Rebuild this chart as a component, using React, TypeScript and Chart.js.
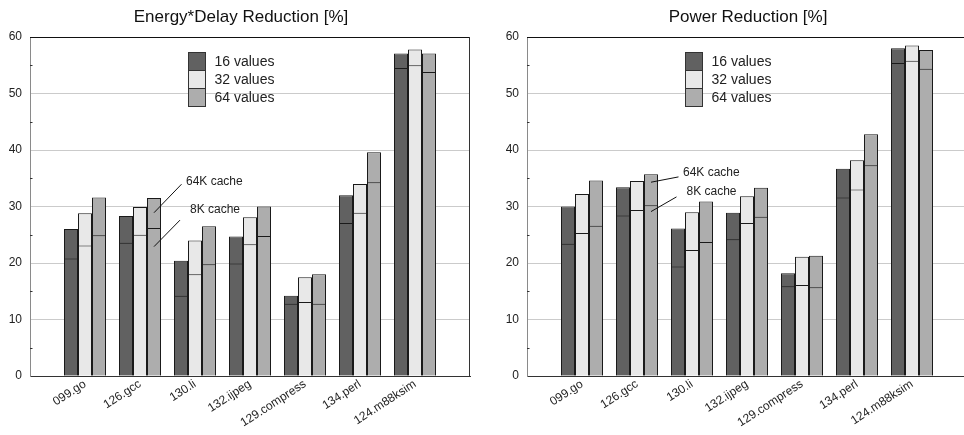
import React, { useEffect, useRef } from 'react';
import { Chart, registerables } from 'chart.js';

Chart.register(...registerables);

// ---------- data ----------
const categories = ['099.go', '126.gcc', '130.li', '132.ijpeg', '129.compress', '134.perl', '124.m88ksim'];
const seriesNames = ['16 values', '32 values', '64 values'];
const yTicks = [0, 10, 20, 30, 40, 50, 60];

// Energy*Delay Reduction [%]  (inner mark = 8K cache, bar top = 64K cache)
const ed16_8K = [20.8, 23.6, 14.2, 19.9, 12.8, 27.1, 54.5];
const ed16_64K = [26.0, 28.3, 20.4, 24.7, 14.2, 32.0, 57.1];
const ed32_8K = [23.1, 25.0, 18.0, 23.3, 13.1, 28.9, 55.0];
const ed32_64K = [28.8, 29.9, 24.0, 28.1, 17.5, 34.0, 57.8];
const ed64_8K = [24.9, 26.2, 19.8, 24.8, 12.8, 34.3, 53.8];
const ed64_64K = [31.6, 31.5, 26.5, 30.0, 18.0, 39.6, 57.1];

// Power Reduction [%]
const pw16_8K = [23.4, 28.4, 19.4, 24.2, 15.9, 31.6, 55.4];
const pw16_64K = [30.0, 33.4, 26.1, 28.9, 18.2, 36.7, 58.0];
const pw32_8K = [25.3, 29.4, 22.3, 27.1, 16.1, 33.0, 55.8];
const pw32_64K = [32.2, 34.5, 29.0, 31.8, 21.1, 38.2, 58.5];
const pw64_8K = [26.6, 30.2, 23.7, 28.2, 15.7, 37.3, 54.4];
const pw64_64K = [34.6, 35.7, 30.9, 33.3, 21.3, 42.8, 57.7];

// annotation anchors (category, series index, value pointed at)
const edAnnotations = [
  { text: '64K cache', category: '126.gcc', series: 2, value: 28.9, lx: 27.5, ly: -28.5, tx: 32, ty: -31 },
  { text: '8K cache', category: '126.gcc', series: 2, value: 22.9, lx: 26, ly: -26.5, tx: 36, ty: -36.5 },
];
const pwAnnotations = [
  { text: '64K cache', category: '126.gcc', series: 2, value: 34.3, lx: 27.5, ly: -5.3, tx: 32, ty: -9.3 },
  { text: '8K cache', category: '126.gcc', series: 2, value: 29.1, lx: 25.5, ly: -14.7, tx: 35.5, ty: -19.4 },
];

const fills = ['#616161', '#e8e8e8', '#adadad'];
const FONT = "'Liberation Sans', Arial, Helvetica, sans-serif";

const labels = ['', ...categories, ''];

const barBorder = { top: 1, left: 1, right: 1, bottom: 0 };

function buildDatasets(lows: number[][], highs: number[][]) {
  // 8K datasets (drawn last, on top) – carry the legend entries
  const lower = lows.map((arr, s) => ({
    label: seriesNames[s],
    data: [null, ...arr, null],
    stack: 's' + s,
    backgroundColor: fills[s],
    borderColor: '#1a1a1a',
    borderWidth: barBorder,
    borderSkipped: false,
    inflateAmount: 0,
    inLegend: true,
  }));
  // full 64K bars (drawn first, behind)
  const full = highs.map((arr, s) => ({
    label: seriesNames[s] + ' 64K',
    data: [null, ...arr, null],
    stack: 's' + s,
    backgroundColor: fills[s],
    borderColor: '#1a1a1a',
    borderWidth: barBorder,
    borderSkipped: false,
    inflateAmount: 0,
    inLegend: false,
  }));
  return [...lower, ...full];
}

const framePlugin = {
  id: 'frame',
  beforeDatasetsDraw(chart: any) {
    const { ctx, chartArea, scales } = chart;
    ctx.save();
    ctx.strokeStyle = '#333';
    ctx.lineWidth = 1;
    for (let i = 0; i < yTicks.length - 1; i++) {
      const v = (yTicks[i] + yTicks[i + 1]) / 2;
      const y = Math.round(scales.y.getPixelForValue(v)) + 0.5;
      ctx.beginPath();
      ctx.moveTo(chartArea.left, y);
      ctx.lineTo(chartArea.left + 2.5, y);
      ctx.stroke();
    }
    ctx.restore();
  },
  afterDraw(chart: any) {
    const { ctx, chartArea } = chart;
    ctx.save();
    ctx.lineWidth = 1;
    ctx.strokeStyle = '#111';
    const t = Math.round(chartArea.top) + 0.5;
    ctx.beginPath();
    ctx.moveTo(chartArea.left, t);
    ctx.lineTo(chartArea.right, t);
    ctx.stroke();
    ctx.strokeStyle = '#333';
    const r = Math.round(chartArea.right) - 0.5;
    ctx.beginPath();
    ctx.moveTo(r, chartArea.top);
    ctx.lineTo(r, chartArea.bottom);
    ctx.stroke();
    ctx.restore();
  },
};

const legendPlugin = {
  id: 'boxLegend',
  afterDatasetsDraw(chart: any) {
    const { ctx, chartArea } = chart;
    const x0 = Math.round(chartArea.left + 158) + 0.5;
    const y0 = Math.round(chartArea.top + 15) + 0.5;
    const bw = 17;
    const bh = 18;
    ctx.save();
    ctx.font = `14px ${FONT}`;
    ctx.textBaseline = 'middle';
    ctx.textAlign = 'left';
    let k = 0;
    chart.data.datasets.forEach((ds: any) => {
      if (!ds.inLegend) return;
      const y = y0 + k * bh;
      ctx.fillStyle = ds.backgroundColor;
      ctx.fillRect(x0, y, bw, bh);
      ctx.strokeStyle = '#333';
      ctx.lineWidth = 1;
      ctx.strokeRect(x0, y, bw, bh);
      ctx.fillStyle = '#222';
      ctx.fillText(ds.label, x0 + bw + 9, y + bh / 2 + 1);
      k++;
    });
    ctx.restore();
  },
};

const annotationPlugin = {
  id: 'cacheNotes',
  afterDraw(chart: any, _args: any, opts: any) {
    const notes = opts.notes || [];
    const { ctx, scales } = chart;
    ctx.save();
    ctx.font = `12px ${FONT}`;
    ctx.textBaseline = 'middle';
    ctx.textAlign = 'left';
    notes.forEach((n: any) => {
      const meta = chart.getDatasetMeta(n.series);
      const idx = labels.indexOf(n.category);
      const el = meta.data[idx];
      const x = el.x;
      const y = scales.y.getPixelForValue(n.value);
      ctx.strokeStyle = '#111';
      ctx.lineWidth = 1;
      ctx.beginPath();
      ctx.moveTo(x, y);
      ctx.lineTo(x + n.lx, y + n.ly);
      ctx.stroke();
      ctx.fillStyle = '#222';
      ctx.fillText(n.text, x + n.tx, y + n.ty);
    });
    ctx.restore();
  },
};

function Panel({ title, lows, highs, notes, left, width, rightPad }: any) {
  const ref = useRef<HTMLCanvasElement>(null);
  useEffect(() => {
    const chart = new Chart(ref.current as HTMLCanvasElement, {
      type: 'bar',
      data: { labels, datasets: buildDatasets(lows, highs) as any },
      plugins: [framePlugin, legendPlugin, annotationPlugin],
      options: {
        animation: false,
        responsive: false,
        devicePixelRatio: 1,
        layout: { padding: 0 },
        datasets: { bar: { categoryPercentage: 42 / 55, barPercentage: 1.0, grouped: true } },
        plugins: {
          legend: { display: false },
          tooltip: { enabled: false },
          title: {
            display: true,
            text: title,
            color: '#111',
            font: { family: FONT, size: 17, weight: 'normal' },
            padding: { top: 7, bottom: 9.6 },
          },
          cacheNotes: { notes },
        } as any,
        scales: {
          x: {
            type: 'category',
            stacked: true,
            offset: false,
            grid: { display: false, drawTicks: false },
            border: { display: true, color: '#333', width: 1 },
            ticks: {
              autoSkip: false,
              maxRotation: 33,
              minRotation: 33,
              padding: 1,
              color: '#222',
              font: { family: FONT, size: 12 },
            },
            afterFit: (s: any) => {
              s.height = 59;
            },
          },
          y: {
            type: 'linear',
            position: 'left',
            stacked: false,
            min: yTicks[0],
            max: yTicks[yTicks.length - 1],
            grid: {
              drawTicks: false,
              color: (c: any) =>
                c.tick && (c.tick.value === yTicks[0] || c.tick.value === yTicks[yTicks.length - 1])
                  ? 'rgba(0,0,0,0)'
                  : '#cbcbcb',
              lineWidth: 1,
            },
            border: { display: true, color: '#8a8a8a', width: 1 },
            ticks: {
              stepSize: 10,
              padding: 8,
              color: '#222',
              font: { family: FONT, size: 12 },
            },
            afterFit: (s: any) => {
              s.width = 30;
            },
          },
          yR: {
            type: 'linear',
            position: 'right',
            display: true,
            grid: { display: false, drawTicks: false },
            border: { display: false },
            ticks: { display: false },
            afterFit: (s: any) => {
              s.width = rightPad;
            },
          },
        } as any,
      },
    });
    return () => chart.destroy();
  }, []);
  return (
    <canvas
      ref={ref}
      width={width}
      height={435}
      style={{ position: 'absolute', left, top: 0, width, height: 435, display: 'block' }}
    />
  );
}

export default function App() {
  useEffect(() => {
    document.body.style.margin = '0';
  }, []);
  return (
    <div
      style={{
        position: 'fixed',
        left: 0,
        top: 0,
        width: 964,
        height: 435,
        overflow: 'hidden',
        background: '#fff',
      }}
    >
      <Panel
        title="Energy*Delay Reduction [%]"
        lows={[ed16_8K, ed32_8K, ed64_8K]}
        highs={[ed16_64K, ed32_64K, ed64_64K]}
        notes={edAnnotations}
        left={0}
        width={482}
        rightPad={12}
      />
      <Panel
        title="Power Reduction [%]"
        lows={[pw16_8K, pw32_8K, pw64_8K]}
        highs={[pw16_64K, pw32_64K, pw64_64K]}
        notes={pwAnnotations}
        left={497}
        width={502}
        rightPad={32}
      />
    </div>
  );
}
